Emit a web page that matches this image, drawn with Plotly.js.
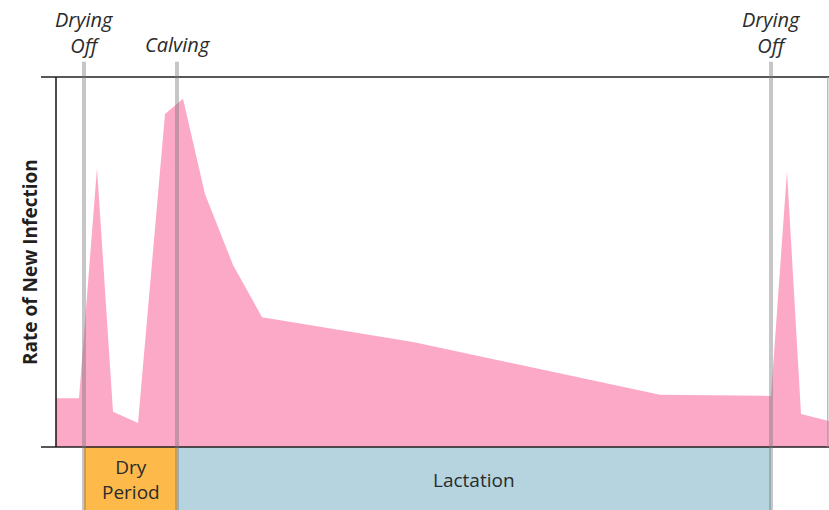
<!DOCTYPE html>
<html>
<head>
<meta charset="utf-8">
<script src="https://cdn.plot.ly/plotly-3.0.1.min.js"></script>
<style>html,body{margin:0;padding:0;background:#fff;}#chart{width:829px;height:510px;}</style>
</head>
<body>
<div id="chart"></div>
<script>
// Time along the lactation cycle (arbitrary units) and relative rate of new infection (0-100)
const timeUnits = [0, 23, 41, 57, 82, 109, 127, 149, 177, 206, 357, 604, 715, 731, 745, 773];
const infectionRate = [13.2, 13.2, 75.4, 9.5, 6.5, 90.0, 94.1, 68.4, 49.2, 35.1, 28.4, 14.1, 13.8, 74.6, 8.9, 7.0];

// Events (vertical markers)
const eventNames = ["Drying<br>Off", "Calving", "Drying<br>Off"];
const eventTimes = [28, 121, 715];

// Periods (bands under the chart)
const periodNames = ["Dry<br>Period", "Lactation"];
const periodStarts = [28, 121];
const periodEnds = [121, 715];
const periodColors = ["#FDBA4B", "#B5D4DF"];

const yTitle = "Rate of New Infection";

const font = "'Open Sans', 'Noto Sans', sans-serif";
const dark = "#231f20";
const textCol = "#2b2b2b";

const trace = {
  x: timeUnits,
  y: infectionRate,
  type: "scatter",
  mode: "lines",
  fill: "tozeroy",
  fillcolor: "#FCA9C8",
  line: {width: 0, color: "#FCA9C8"},
  hoverinfo: "skip",
  showlegend: false
};

const shapes = [];
const annotations = [];

// Period bands
periodNames.forEach((name, i) => {
  shapes.push({type: "rect", xref: "x", yref: "paper", x0: periodStarts[i], x1: periodEnds[i], y0: -0.171, y1: 0,
    fillcolor: periodColors[i], line: {width: 0}, layer: "above"});
  annotations.push({xref: "x", yref: "paper", x: (periodStarts[i] + periodEnds[i]) / 2, y: -0.089,
    text: name, showarrow: false, font: {family: font, size: 19, color: textCol}, xanchor: "center", yanchor: "middle"});
});

// Frame lines
shapes.push({type: "line", xref: "paper", yref: "paper", x0: -0.0194, x1: 1, y0: 1, y1: 1, line: {color: dark, width: 1.6}, layer: "above"});
shapes.push({type: "line", xref: "paper", yref: "paper", x0: -0.0194, x1: 1, y0: 0, y1: 0, line: {color: dark, width: 1.6}, layer: "above"});
shapes.push({type: "line", xref: "paper", yref: "paper", x0: 0, x1: 0, y0: 0, y1: 1, line: {color: dark, width: 1.6}, layer: "above"});
shapes.push({type: "line", xref: "paper", yref: "paper", x0: 0.9985, x1: 0.9985, y0: 0, y1: 1, line: {color: "#9a9a9a", width: 1}, layer: "above"});

// Event lines and labels
eventNames.forEach((name, i) => {
  shapes.push({type: "line", xref: "x", yref: "paper", x0: eventTimes[i], x1: eventTimes[i], y0: -0.171, y1: 1.041,
    line: {color: "rgba(120,120,120,0.42)", width: 4}, layer: "above"});
  const twoLines = name.indexOf("<br>") >= 0;
  annotations.push({xref: "x", yref: "paper", x: eventTimes[i], y: twoLines ? 1.1216 : 1.0865,
    text: "<i>" + name + "</i>", showarrow: false, xanchor: "center", yanchor: "middle",
    font: {family: font, size: 20, color: textCol}});
});

// Y-axis title
annotations.push({xref: "paper", yref: "paper", x: -0.0336, y: 0.5, text: "<b>" + yTitle + "</b>", textangle: -90,
  showarrow: false, xanchor: "center", yanchor: "middle", font: {family: font, size: 19, color: dark}});

const layout = {
  width: 829, height: 510,
  margin: {l: 56, r: 0, t: 77, b: 63},
  paper_bgcolor: "#ffffff", plot_bgcolor: "#ffffff",
  xaxis: {range: [0, 773], showgrid: false, zeroline: false, showticklabels: false, showline: false, ticks: "", fixedrange: true},
  yaxis: {range: [0, 100], showgrid: false, zeroline: false, showticklabels: false, showline: false, ticks: "", fixedrange: true},
  shapes: shapes,
  annotations: annotations,
  showlegend: false
};

Plotly.newPlot("chart", [trace], layout, {displayModeBar: false, staticPlot: true});
</script>
</body>
</html>
